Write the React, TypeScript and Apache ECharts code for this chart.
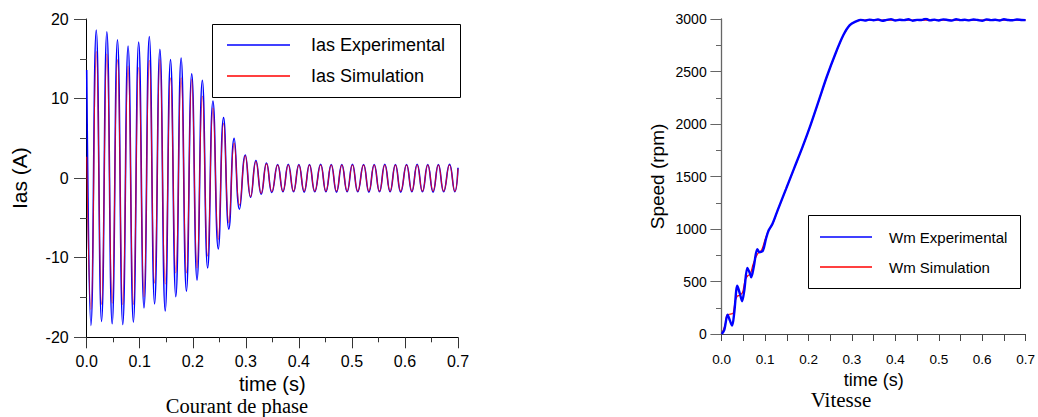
import React, { useEffect, useRef } from "react";
import * as echarts from "echarts";

// ---------- Left panel: phase current (extrema) ----------
const iasTime = [
  0, 0.008, 0.018, 0.028, 0.038, 0.048, 0.058, 0.068, 0.078, 0.088, 0.098,
  0.108, 0.118, 0.128, 0.138, 0.148, 0.158, 0.168, 0.178, 0.188, 0.198,
  0.208, 0.218, 0.228, 0.238, 0.248, 0.258, 0.268, 0.278, 0.288, 0.299,
  0.309, 0.319, 0.329, 0.339, 0.349, 0.36, 0.37, 0.38, 0.39, 0.4,
  0.41, 0.42, 0.43, 0.441, 0.451, 0.461, 0.471, 0.481, 0.491, 0.501,
  0.511, 0.522, 0.532, 0.542, 0.552, 0.562, 0.572, 0.582, 0.592, 0.603,
  0.613, 0.623, 0.633, 0.643, 0.653, 0.663, 0.673, 0.684, 0.694, 0.7,
];
const iasExperimental = [
  13.6, -18.5, 18.6, -18.0, 18.4, -18.3, 17.4, -18.4, 16.6, -18.1, 17.1,
  -16.3, 17.8, -15.8, 16.2, -16.7, 14.9, -14.9, 15.1, -14.2, 13.1,
  -12.8, 12.3, -11.3, 9.7, -8.9, 7.6, -6.4, 5.0, -3.9, 2.9,
  -2.4, 2.2, -2.0, 1.9, -1.8, 1.7, -1.7, 1.75, -1.7, 1.7,
  -1.75, 1.7, -1.7, 1.75, -1.7, 1.7, -1.75, 1.7, -1.7, 1.75,
  -1.7, 1.7, -1.75, 1.7, -1.7, 1.75, -1.7, 1.7, -1.75, 1.7,
  -1.7, 1.75, -1.7, 1.7, -1.75, 1.7, -1.7, 1.75, -1.7, 1.3,
];
const iasSimulation = [
  2.7, -16.5, 15.9, -15.9, 15.6, -15.7, 14.9, -15.9, 14.1, -15.9, 13.9,
  -14.9, 14.8, -13.2, 14.9, -13.3, 12.6, -11.9, 12.6, -11.9, 12.4,
  -11.3, 10.3, -9.8, 8.8, -7.7, 6.9, -5.6, 4.4, -3.4, 2.8,
  -2.3, 2.1, -1.9, 1.8, -1.7, 1.65, -1.65, 1.65, -1.65, 1.65,
  -1.65, 1.65, -1.65, 1.65, -1.65, 1.65, -1.65, 1.65, -1.65, 1.65,
  -1.65, 1.65, -1.65, 1.65, -1.65, 1.65, -1.65, 1.65, -1.65, 1.65,
  -1.65, 1.65, -1.65, 1.65, -1.65, 1.65, -1.65, 1.65, -1.65, 1.2,
];

// ---------- Right panel: speed ----------
const wmExpTime = [
  0, 0.006, 0.0136, 0.019, 0.024, 0.029, 0.036, 0.042, 0.047, 0.052, 0.059,
  0.064, 0.068, 0.074, 0.082, 0.087, 0.095, 0.102, 0.108, 0.117, 0.129,
  0.148, 0.167, 0.186, 0.205, 0.224, 0.242, 0.261, 0.28, 0.295, 0.311,
  0.32, 0.33, 0.34, 0.35, 0.36, 0.37, 0.38, 0.39, 0.4, 0.41, 0.42, 0.43,
  0.44, 0.45, 0.46, 0.47, 0.48, 0.49, 0.5, 0.51, 0.52, 0.53, 0.54, 0.55,
  0.56, 0.57, 0.58, 0.59, 0.6, 0.61, 0.62, 0.63, 0.64, 0.65, 0.66, 0.67,
  0.68, 0.69, 0.7,
];
const wmExperimental = [
  0, 40, 185, 127, 80, 207, 461, 382, 312, 414, 630,
  588, 541, 643, 808, 779, 795, 907, 986, 1050, 1180,
  1380, 1580, 1780, 1995, 2228, 2450, 2660, 2845, 2942, 2980,
  2992, 2985, 2994, 2988, 2996, 2983, 2991, 2999, 2986, 2993, 2989, 2997,
  2984, 2992, 2990, 3002, 2987, 2994, 2986, 2996, 2991, 2985, 2998, 2989,
  2993, 2987, 2995, 2990, 2984, 2996, 2989, 2993, 2986, 2997, 2990, 2988,
  2995, 2991, 2989,
];
const wmSimTime = [
  0, 0.008, 0.012, 0.02, 0.026, 0.031, 0.036, 0.042, 0.048, 0.054, 0.06,
  0.066, 0.072, 0.078, 0.084, 0.092, 0.1, 0.108, 0.117, 0.129, 0.148,
  0.167, 0.186, 0.205, 0.224, 0.242, 0.261, 0.28, 0.295, 0.311, 0.33, 0.7,
];
const wmSimulation = [
  0, 90, 180, 190, 195, 310, 360, 370, 395, 515, 555,
  570, 660, 725, 770, 800, 900, 985, 1045, 1178, 1378,
  1578, 1778, 1993, 2226, 2448, 2658, 2843, 2940, 2980, 2990, 2990,
];

const xTicks = ["0.0", "0.1", "0.2", "0.3", "0.4", "0.5", "0.6", "0.7"];

const SANS = "'Liberation Sans', Arial, sans-serif";
const NARROW = "'Liberation Sans Narrow', 'Liberation Sans', Arial, sans-serif";
const SERIF = "'Liberation Serif', 'Times New Roman', serif";

const pairs = (xs: number[], ys: number[]) => xs.map((x, i) => [x, ys[i]]);

export default function App() {
  const ref = useRef<HTMLDivElement>(null);
  useEffect(() => {
    if (!ref.current) return;
    const chart = echarts.init(ref.current, undefined, { renderer: "svg" });
    const xLabel = (v: number) => xTicks[Math.round(v * 10)] ?? "";
    const plain = (v: number) => String(v);
    chart.setOption({
      animation: false,
      backgroundColor: "#fff",
      grid: [
        { left: 86.7, top: 19, width: 371.3, height: 318.3 },
        { left: 721.7, top: 19, width: 308.3, height: 315 },
      ],
      xAxis: [
        {
          gridIndex: 0, type: "value", min: 0, max: 0.7, interval: 0.1,
          name: "time (s)", nameLocation: "middle", nameGap: 30,
          nameTextStyle: { fontSize: 20, color: "#000", fontFamily: SANS, lineHeight: 20 },
          axisLine: { show: true, onZero: false, lineStyle: { color: "#000", width: 1 } },
          axisTick: { show: true, length: 11, lineStyle: { color: "#333" } },
          minorTick: { show: true, splitNumber: 2, length: 5, lineStyle: { color: "#333" } },
          splitLine: { show: false },
          axisLabel: { formatter: xLabel, fontSize: 16, margin: 16, color: "#000", fontFamily: SANS },
        },
        {
          gridIndex: 1, type: "value", min: 0, max: 0.7, interval: 0.1,
          name: "time (s)", nameLocation: "middle", nameGap: 34,
          nameTextStyle: { fontSize: 18, color: "#000", fontFamily: NARROW, lineHeight: 18 },
          axisLine: { show: true, onZero: false, lineStyle: { color: "#444", width: 1 } },
          axisTick: { show: true, length: 7, lineStyle: { color: "#444" } },
          minorTick: { show: true, splitNumber: 2, length: 7, lineStyle: { color: "#444" } },
          splitLine: { show: false },
          axisLabel: { formatter: xLabel, fontSize: 13.5, margin: 18, color: "#000", fontFamily: NARROW },
        },
      ],
      yAxis: [
        {
          gridIndex: 0, type: "value", min: -20, max: 20, interval: 10,
          name: "Ias (A)", nameLocation: "middle", nameGap: 57, nameRotate: 90,
          nameTextStyle: { fontSize: 21, color: "#000", fontFamily: NARROW },
          axisLine: { show: true, onZero: false, lineStyle: { color: "#000", width: 1 } },
          axisTick: { show: true, length: 12.7, lineStyle: { color: "#444" } },
          minorTick: { show: true, splitNumber: 2, length: 6.7, lineStyle: { color: "#444" } },
          splitLine: { show: false },
          axisLabel: { formatter: plain, fontSize: 16, margin: 18, color: "#000", fontFamily: SANS },
        },
        {
          gridIndex: 1, type: "value", min: 0, max: 3000, interval: 500,
          name: "Speed (rpm)", nameLocation: "middle", nameGap: 55, nameRotate: 90,
          nameTextStyle: { fontSize: 19, color: "#000", fontFamily: NARROW },
          axisLine: { show: true, onZero: false, lineStyle: { color: "#666", width: 1.3 } },
          axisTick: { show: true, length: 11.3, lineStyle: { color: "#666" } },
          minorTick: { show: true, splitNumber: 2, length: 5.7, lineStyle: { color: "#666" } },
          splitLine: { show: false },
          axisLabel: { formatter: plain, fontSize: 14, margin: 15, color: "#000", fontFamily: NARROW },
        },
      ],
      legend: [
        {
          data: ["Ias Experimental", "Ias Simulation"], orient: "vertical",
          left: 227, top: 36, itemWidth: 63, itemHeight: 1.5, itemGap: 13,
          icon: "rect", selectedMode: false, padding: 0,
          textStyle: { fontSize: 18, color: "#000", fontFamily: SANS, padding: [0, 0, 0, 16] },
        },
        {
          data: ["Wm Experimental", "Wm Simulation"], orient: "vertical",
          left: 820, top: 229.5, itemWidth: 52, itemHeight: 1.5, itemGap: 15,
          icon: "rect", selectedMode: false, padding: 0,
          textStyle: { fontSize: 15, color: "#000", fontFamily: SANS, padding: [0, 0, 0, 12] },
        },
      ],
      graphic: [
        { type: "rect", shape: { x: 212.5, y: 24.5, width: 248, height: 73 }, style: { fill: "#fff", stroke: "#000", lineWidth: 1 }, z: -1 },
        { type: "rect", shape: { x: 808.5, y: 215.5, width: 212, height: 73 }, style: { fill: "#fff", stroke: "#000", lineWidth: 1 }, z: -1 },
        { type: "text", x: 237, y: 405.5, style: { text: "Courant de phase", fontSize: 20.5, fontFamily: SERIF, fill: "#000", align: "center", verticalAlign: "middle", lineHeight: 20 } },
        { type: "text", x: 841, y: 400, style: { text: "Vitesse", fontSize: 21, fontFamily: SERIF, fill: "#000", align: "center", verticalAlign: "middle", lineHeight: 20 } },
      ],
      series: [
        {
          name: "Ias Experimental", type: "line", xAxisIndex: 0, yAxisIndex: 0,
          data: pairs(iasTime, iasExperimental), smooth: 0.5, symbol: "none",
          lineStyle: { color: "#0000ff", width: 1.6 }, itemStyle: { color: "#0000ff" },
        },
        {
          name: "Ias Simulation", type: "line", xAxisIndex: 0, yAxisIndex: 0,
          data: pairs(iasTime, iasSimulation), smooth: 0.5, symbol: "none",
          lineStyle: { color: "#ff0000", width: 1.1, opacity: 0.8 }, itemStyle: { color: "#ff0000" },
        },
        {
          name: "Wm Simulation", type: "line", xAxisIndex: 1, yAxisIndex: 1,
          data: pairs(wmSimTime, wmSimulation), smooth: 0.3, symbol: "none",
          lineStyle: { color: "#ff0000", width: 1.2 }, itemStyle: { color: "#ff0000" },
        },
        {
          name: "Wm Experimental", type: "line", xAxisIndex: 1, yAxisIndex: 1,
          data: pairs(wmExpTime, wmExperimental), smooth: 0.3, symbol: "none",
          lineStyle: { color: "#0000ff", width: 2.4 }, itemStyle: { color: "#0000ff" },
        },
      ],
    });
    return () => chart.dispose();
  }, []);
  return (
    <div
      ref={ref}
      style={{ position: "fixed", left: 0, top: 0, width: 1038, height: 417, background: "#fff" }}
    />
  );
}
